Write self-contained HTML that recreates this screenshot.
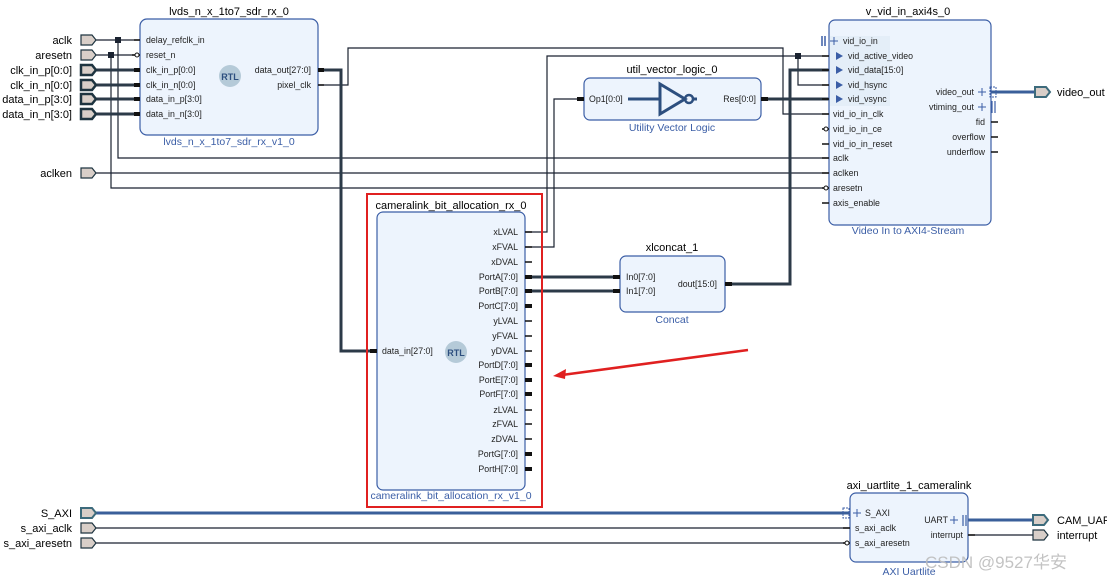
<!DOCTYPE html>
<html><head><meta charset="utf-8"><style>
html,body{margin:0;padding:0;background:#fff;}
svg{display:block;font-family:"Liberation Sans","Noto Sans CJK SC",sans-serif;}
.t{font-size:11px;fill:#000;}
.p{font-size:8.8px;fill:#222;}
.s{font-size:11px;fill:#3b5ea6;}
.w{stroke:#1a2230;stroke-width:1.2;fill:none;}
.b{stroke:#2c3a48;stroke-width:3;fill:none;}
.bb{stroke:#3a5f9a;stroke-width:3;fill:none;}
.blk{fill:#edf4fd;stroke:#3b5ea6;stroke-width:1.2;}
.pin{stroke:#111;stroke-width:1.5;}
.pinb{stroke:#111;stroke-width:4;}
.port{fill:#d8cec8;stroke:#1e3440;stroke-width:1.2;}
.portb{fill:#d8cec8;stroke:#3d6b7c;stroke-width:2;}
</style></head><body>
<svg width="1107" height="580" viewBox="0 0 1107 580" xmlns="http://www.w3.org/2000/svg">
<!-- wires -->
<path class="w" d="M96,40 H140 M118,40 V158 H829"/>
<path class="w" d="M96,55 H140 M111,55 V188 H829"/>
<path class="w" d="M96,173 H829"/>
<path class="b" d="M96,70 H140 M96,85 H140 M96,99 H140 M96,114 H140"/>
<path class="w" d="M318,85 H348 V48 H783 V114 H829"/>
<path class="b" d="M318,70 H341 V351 H377"/>
<path class="w" d="M525,232 H547 V56 H829 M798,56 V85 H829"/>
<path class="w" d="M525,247 H554 V99 H584"/>
<path class="b" d="M761,99 H829"/>
<path class="b" d="M525,277 H620 M525,291 H620"/>
<path class="b" d="M725,284 H790 V70 H829"/>
<rect x="115" y="37" width="6" height="6" fill="#1a2230"/>
<rect x="108" y="52" width="6" height="6" fill="#1a2230"/>
<rect x="795" y="53" width="6" height="6" fill="#1a2230"/>
<path class="bb" d="M96,513 H850"/>
<path class="w" d="M96,528 H850 M96,543 H850"/>
<path class="bb" d="M991,92 H1035"/>
<path class="bb" d="M968,520 H1033"/>
<path class="w" d="M968,535 H1033"/>

<!-- external ports -->
<g text-anchor="end" class="t">
<text x="72" y="44">aclk</text><text x="72" y="59">aresetn</text>
<text x="72" y="74">clk_in_p[0:0]</text><text x="72" y="89">clk_in_n[0:0]</text>
<text x="72" y="103">data_in_p[3:0]</text><text x="72" y="118">data_in_n[3:0]</text>
<text x="72" y="177">aclken</text>
<text x="72" y="517">S_AXI</text><text x="72" y="532">s_axi_aclk</text><text x="72" y="547">s_axi_aresetn</text>
</g>
<path class="port" d="M81,35 H92 L96,40 L92,45 H81Z M81,50 H92 L96,55 L92,60 H81Z M81,168 H92 L96,173 L92,178 H81Z M81,523 H92 L96,528 L92,533 H81Z M81,538 H92 L96,543 L92,548 H81Z"/>
<path class="port" style="stroke-width:2.5" d="M81,65 H92 L96,70 L92,75 H81Z M81,80 H92 L96,85 L92,90 H81Z M81,94 H92 L96,99 L92,104 H81Z M81,109 H92 L96,114 L92,119 H81Z"/>
<path class="portb" d="M81,508 H92 L96,513 L92,518 H81Z"/>
<path class="portb" d="M1035,87 H1046 L1050,92 L1046,97 H1035Z M1033,515 H1044 L1048,520 L1044,525 H1033Z"/>
<path class="port" d="M1033,530 H1044 L1048,535 L1044,540 H1033Z"/>
<text class="t" x="1057" y="96">video_out</text>
<text class="t" x="1057" y="524">CAM_UART</text>
<text class="t" x="1057" y="539">interrupt</text>

<!-- LVDS block -->
<text class="t" x="229" y="15" text-anchor="middle">lvds_n_x_1to7_sdr_rx_0</text>
<rect class="blk" x="140" y="19" width="178" height="116" rx="7"/>
<text class="s" x="229" y="145" text-anchor="middle" style="font-size:10.5px">lvds_n_x_1to7_sdr_rx_v1_0</text>
<path class="pin" d="M134,40 H140 M132,55 H140"/><circle cx="137" cy="55" r="2" fill="#fff" stroke="#111"/>
<path class="pinb" d="M134,70 H140 M134,85 H140 M134,99 H140 M134,114 H140 M318,70 H324"/><path class="pin" d="M318,85 H324"/>
<g class="p"><text x="146" y="43">delay_refclk_in</text><text x="146" y="58">reset_n</text><text x="146" y="73">clk_in_p[0:0]</text><text x="146" y="88">clk_in_n[0:0]</text><text x="146" y="102">data_in_p[3:0]</text><text x="146" y="117">data_in_n[3:0]</text>
<text x="311" y="73" text-anchor="end">data_out[27:0]</text><text x="311" y="88" text-anchor="end">pixel_clk</text></g>
<circle cx="230" cy="76" r="11" fill="#b5cad8"/><text x="230" y="80" text-anchor="middle" style="font-size:9px;font-weight:bold;fill:#2d4f7f">RTL</text>

<!-- util -->
<text class="t" x="672" y="73" text-anchor="middle">util_vector_logic_0</text>
<rect class="blk" x="584" y="78" width="177" height="42" rx="6"/>
<text class="s" x="672" y="131" text-anchor="middle" style="font-size:10.5px">Utility Vector Logic</text>
<path class="pinb" d="M577,99 H584 M761,99 H768"/>
<g class="p"><text x="589" y="102">Op1[0:0]</text><text x="756" y="102" text-anchor="end">Res[0:0]</text></g>
<path d="M628,99 H660 M692,99 H697" stroke="#2d4f7f" stroke-width="3"/>
<path d="M660,84 L685,99 L660,114Z" fill="none" stroke="#2d4f7f" stroke-width="3"/>
<circle cx="689" cy="99" r="4" fill="none" stroke="#2d4f7f" stroke-width="2.5"/>

<!-- v_vid -->
<text class="t" x="908" y="15" text-anchor="middle">v_vid_in_axi4s_0</text>
<rect class="blk" x="829" y="20" width="162" height="205" rx="6"/>
<rect x="830" y="36" width="60" height="70" fill="#e4eef8"/>
<text class="s" x="908" y="234" text-anchor="middle" style="font-size:10.5px">Video In to AXI4-Stream</text>
<path d="M822,36 V46 M825,36 V46" stroke="#3b5ea6" stroke-width="1.5"/>
<path d="M830,41 H838 M834,37 V45" stroke="#3b5ea6" stroke-width="1"/>
<path class="pin" d="M822,56 H829 M822,70 H829 M822,85 H829 M822,99 H829 M822,114 H829 M822,129 H829 M822,144 H829 M822,158 H829 M822,173 H829 M822,188 H829 M822,203 H829 M991,122 H998 M991,137 H998 M991,152 H998"/>
<circle cx="826" cy="129" r="2" fill="#fff" stroke="#111"/><circle cx="826" cy="188" r="2" fill="#fff" stroke="#111"/>
<g fill="#3b5ea6"><path d="M836,52 L843,56 L836,60Z"/><path d="M836,66 L843,70 L836,74Z"/><path d="M836,81 L843,85 L836,89Z"/><path d="M836,95 L843,99 L836,103Z"/></g>
<g class="p"><text x="843" y="44">vid_io_in</text><text x="848" y="59">vid_active_video</text><text x="848" y="73">vid_data[15:0]</text><text x="848" y="88">vid_hsync</text><text x="848" y="102">vid_vsync</text>
<text x="833" y="117">vid_io_in_clk</text><text x="833" y="132">vid_io_in_ce</text><text x="833" y="147">vid_io_in_reset</text><text x="833" y="161">aclk</text><text x="833" y="176">aclken</text><text x="833" y="191">aresetn</text><text x="833" y="206">axis_enable</text>
<g text-anchor="end"><text x="974" y="95">video_out</text><text x="974" y="110">vtiming_out</text><text x="985" y="125">fid</text><text x="985" y="140">overflow</text><text x="985" y="155">underflow</text></g></g>
<path d="M978,92 H986 M982,88 V96 M978,107 H986 M982,103 V111" stroke="#3b5ea6" stroke-width="1"/>
<rect x="990" y="87" width="6" height="10" fill="none" stroke="#3b5ea6" stroke-dasharray="2,1"/>
<path d="M992,101 V113 M995,101 V113" stroke="#3b5ea6" stroke-width="1.2"/>

<!-- cameralink -->
<rect x="367" y="194" width="175" height="313" fill="none" stroke="#e02020" stroke-width="2"/>
<text class="t" x="451" y="209" text-anchor="middle">cameralink_bit_allocation_rx_0</text>
<rect class="blk" x="377" y="212" width="148" height="278" rx="6"/>
<text class="s" x="451" y="499" text-anchor="middle" style="font-size:10.5px">cameralink_bit_allocation_rx_v1_0</text>
<path class="pinb" d="M370,351 H377"/>
<text class="p" x="382" y="354">data_in[27:0]</text>
<circle cx="456" cy="352" r="11" fill="#b5cad8"/><text x="456" y="356" text-anchor="middle" style="font-size:9px;font-weight:bold;fill:#2d4f7f">RTL</text>
<g class="p" text-anchor="end">
<text x="518" y="235">xLVAL</text><text x="518" y="250">xFVAL</text><text x="518" y="265">xDVAL</text><text x="518" y="280">PortA[7:0]</text><text x="518" y="294">PortB[7:0]</text><text x="518" y="309">PortC[7:0]</text><text x="518" y="324">yLVAL</text><text x="518" y="339">yFVAL</text><text x="518" y="354">yDVAL</text><text x="518" y="368">PortD[7:0]</text><text x="518" y="383">PortE[7:0]</text><text x="518" y="397">PortF[7:0]</text><text x="518" y="413">zLVAL</text><text x="518" y="427">zFVAL</text><text x="518" y="442">zDVAL</text><text x="518" y="457">PortG[7:0]</text><text x="518" y="472">PortH[7:0]</text></g>
<path class="pin" d="M525,232 H532 M525,247 H532 M525,262 H532 M525,321 H532 M525,336 H532 M525,351 H532 M525,410 H532 M525,424 H532 M525,439 H532"/>
<path class="pinb" d="M525,277 H532 M525,291 H532 M525,306 H532 M525,365 H532 M525,380 H532 M525,394 H532 M525,454 H532 M525,469 H532"/>

<!-- concat -->
<text class="t" x="672" y="251" text-anchor="middle">xlconcat_1</text>
<rect class="blk" x="620" y="256" width="105" height="56" rx="6"/>
<text class="s" x="672" y="323" text-anchor="middle" style="font-size:10.5px">Concat</text>
<path class="pinb" d="M613,277 H620 M613,291 H620 M725,284 H732"/>
<g class="p"><text x="626" y="280">In0[7:0]</text><text x="626" y="294">In1[7:0]</text><text x="717" y="287" text-anchor="end">dout[15:0]</text></g>

<!-- red arrow -->
<path d="M748,350 L562,375" stroke="#e02020" stroke-width="2.5"/>
<path d="M553,376 L566,369 L565,379Z" fill="#e02020"/>

<!-- uart -->
<text class="t" x="909" y="489" text-anchor="middle">axi_uartlite_1_cameralink</text>
<rect class="blk" x="850" y="493" width="118" height="69" rx="6"/>
<text class="s" x="909" y="575" text-anchor="middle" style="font-size:10.5px">AXI Uartlite</text>
<rect x="843" y="508" width="6" height="10" fill="none" stroke="#3b5ea6" stroke-dasharray="2,1"/>
<path d="M853,513 H861 M857,509 V517 M950,520 H958 M954,516 V524" stroke="#3b5ea6" stroke-width="1"/>
<path d="M963,515 V526 M966,515 V526" stroke="#3b5ea6" stroke-width="1.2"/>
<path class="pin" d="M843,528 H850 M843,543 H850 M968,535 H975"/>
<circle cx="847" cy="543" r="2" fill="#fff" stroke="#111"/>
<g class="p"><text x="865" y="516">S_AXI</text><text x="855" y="531">s_axi_aclk</text><text x="855" y="546">s_axi_aresetn</text>
<text x="948" y="523" text-anchor="end">UART</text><text x="963" y="538" text-anchor="end">interrupt</text></g>

<text x="925" y="568" style="font-size:17px;fill:#bdbdbd;opacity:0.9">CSDN @9527华安</text>
</svg>
</body></html>
